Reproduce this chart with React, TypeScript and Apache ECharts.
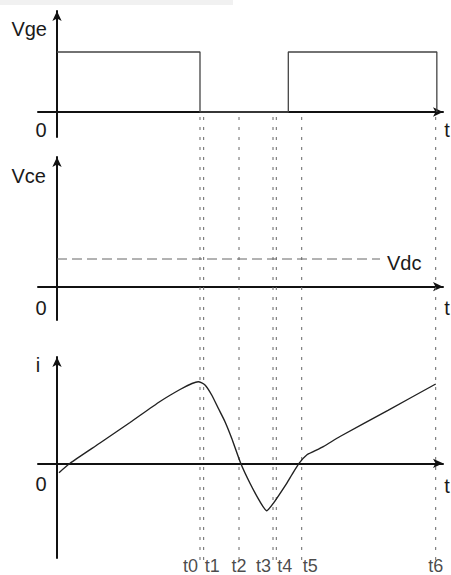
import React, { useEffect, useRef } from "react";
import * as echarts from "echarts";

// Instant names and times (time units: t6 = 100)
const T_NAMES = ["t0", "t1", "t2", "t3", "t4", "t5", "t6"];
const T_VALUES = [37.76, 38.73, 48.06, 57.04, 57.91, 64.62, 100];
const T_LABEL_ALIGN = ["right", "left", "center", "right", "left", "left", "center"];

// Gate voltage Vge (normalized)
const VGE_T = [0, 37.76, 37.76, 61.08, 61.08, 100.3, 100.3];
const VGE_V = [1, 1, 0, 0, 1, 1, 0];

// Vdc level (Vce panel)
const VDC_T = [0, 85.3];
const VDC_V = [1, 1];

// Current i (arbitrary units)
const I_T = [0.53, 3.43, 11.35, 19.28, 27.2, 32.48, 35.65, 37.31, 39.08, 40.85, 42.59, 44.36, 46.13, 48.51, 50.96, 53.6, 55.37, 57.12, 60.66, 61.98, 63.9, 65.94, 67.68, 70.32, 74.73, 87.4, 100];
const I_V = [-0.94, 0, 2.03, 4.08, 6.18, 7.38, 7.98, 8.16, 7.83, 6.83, 5.5, 4.16, 2.5, 0, -2.0, -3.84, -4.74, -4.0, -2.0, -1.17, 0, 0.83, 1.16, 1.66, 2.68, 5.3, 7.93];

const FONT = "Liberation Sans, Arial, Helvetica, sans-serif";
const TXT = "#1a1a1a";

export default function App() {
  const ref = useRef<HTMLDivElement>(null);
  useEffect(() => {
    if (!ref.current) return;
    const chart = echarts.init(ref.current, undefined, { renderer: "svg" });
    const K = 3.787; // px per time unit
    const X_MIN = -19 / K;
    const X_MAX = 386 / K;
    const axisLine = {
      onZero: true,
      symbol: ["none", "arrow"],
      symbolSize: [7, 10],
      lineStyle: { color: "#111", width: 2 },
    };
    const mkX = (gi: number, show = true) => ({
      type: "value",
      gridIndex: gi,
      min: X_MIN,
      max: X_MAX,
      show,
      axisLine,
      axisTick: { show: false },
      axisLabel: { show: false },
      splitLine: { show: false },
    });
    const mkY = (gi: number, min: number, max: number, show = true) => ({
      type: "value",
      gridIndex: gi,
      min,
      max,
      show,
      axisLine,
      axisTick: { show: false },
      axisLabel: { show: false },
      splitLine: { show: false },
    });
    const dashSeries = T_VALUES.map((t, i) => ({
      type: "line",
      name: T_NAMES[i],
      xAxisIndex: 3,
      yAxisIndex: 3,
      data: [
        [t, 0],
        [t, 1],
      ],
      symbol: "none",
      silent: true,
      lineStyle: { color: "#666", width: 1, type: [3, 7] },
      z: 1,
    }));
    const labelSeries = {
      type: "scatter",
      xAxisIndex: 3,
      yAxisIndex: 3,
      clip: false,
      symbolSize: 0,
      silent: true,
      data: T_VALUES.map((t, i) => ({
        value: [t, -6 / 448],
        name: T_NAMES[i],
        label: {
          show: true,
          position: "inside",
          formatter: T_NAMES[i],
          align: T_LABEL_ALIGN[i],
          offset: T_LABEL_ALIGN[i] === "right" ? [-2, 0] : T_LABEL_ALIGN[i] === "left" ? [1, 0] : [0, 0],
          fontSize: 18,
          fontFamily: FONT,
          color: TXT,
          verticalAlign: "middle",
        },
      })),
    };
    const txt = (text: string, x: number, y: number, align = "center") => ({
      type: "text",
      x,
      y,
      style: { text, fontSize: 20, fontFamily: FONT, fill: TXT, align, verticalAlign: "middle" },
    });
    chart.setOption({
      animation: false,
      backgroundColor: "#fff",
      grid: [
        { left: 38, width: 405, top: 11, height: 126 },
        { left: 38, width: 405, top: 157, height: 163 },
        { left: 38, width: 405, top: 357, height: 201 },
        { left: 38, width: 405, top: 112, height: 463 },
      ],
      xAxis: [mkX(0), mkX(1), mkX(2), mkX(3, false)],
      yAxis: [
        mkY(0, -25 / 60, 101 / 60),
        mkY(1, -33.3 / 27.7, 129.7 / 27.7),
        mkY(2, -9.47, 10.63),
        mkY(3, -15 / 448, 1, false),
      ],
      graphic: [
        { type: "rect", shape: { x: 0, y: 0, width: 233, height: 5 }, style: { fill: "#f1f1f1" } },
        txt("Vge", 47, 29, "right"),
        txt("0", 41, 130),
        txt("t", 447, 130),
        txt("Vce", 46, 176, "right"),
        txt("0", 41, 308),
        txt("t", 447, 308),
        txt("i", 38, 365),
        txt("0", 41, 484),
        txt("t", 447, 486),
      ],
      series: [
        ...dashSeries,
        labelSeries,
        {
          type: "line",
          xAxisIndex: 0,
          yAxisIndex: 0,
          data: VGE_T.map((t, i) => [t, VGE_V[i]]),
          symbol: "none",
          lineStyle: { color: "#444", width: 1.3 },
          z: 3,
        },
        {
          type: "line",
          xAxisIndex: 1,
          yAxisIndex: 1,
          data: VDC_T.map((t, i) => [t, VDC_V[i]]),
          symbol: "none",
          lineStyle: { color: "#666", width: 1, type: [10, 5] },
          endLabel: {
            show: true,
            formatter: "Vdc",
            distance: 7,
            offset: [0, 4],
            fontSize: 20,
            fontFamily: FONT,
            color: TXT,
          },
          z: 3,
        },
        {
          type: "line",
          xAxisIndex: 2,
          yAxisIndex: 2,
          data: I_T.map((t, i) => [t, I_V[i]]),
          symbol: "none",
          smooth: 0.2,
          lineStyle: { color: "#222", width: 1.4 },
          z: 3,
        },
      ],
    });
    return () => chart.dispose();
  }, []);
  return (
    <div
      ref={ref}
      style={{ position: "fixed", left: 0, top: 0, width: 451, height: 575, background: "#fff" }}
    />
  );
}
